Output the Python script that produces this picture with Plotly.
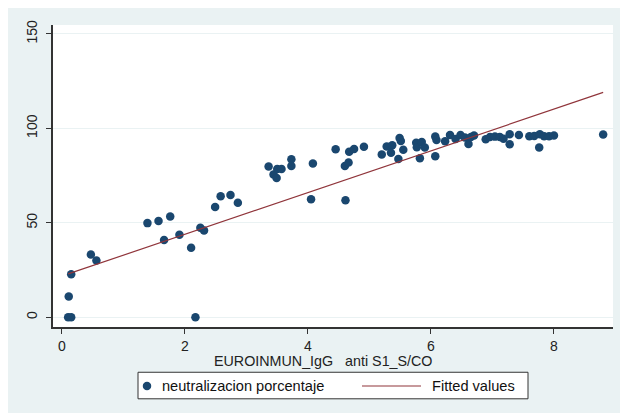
import plotly.graph_objects as go

# Data (EUROINMUN IgG anti S1 S/CO vs neutralizacion %)
igg = [0.10, 0.15, 0.11, 0.15, 0.47, 0.56, 1.39, 1.57, 1.76, 1.66, 1.91, 2.10,
       2.17, 2.25, 2.31, 2.49, 2.58, 2.74, 2.86, 3.36, 3.44, 3.49, 3.50, 3.57,
       3.73, 3.73, 4.08, 4.05, 4.45, 4.60, 4.66, 4.61, 4.67, 4.75, 4.91,
       5.20, 5.28, 5.37, 5.35, 5.49, 5.51, 5.47, 5.55,
       5.76, 5.77, 5.82, 5.85, 5.90,
       6.07, 6.09, 6.07, 6.23, 6.31, 6.40, 6.48, 6.55, 6.61, 6.70, 6.65,
       6.89, 6.96, 7.04, 7.12, 7.18, 7.28, 7.28, 7.43, 7.60, 7.68, 7.77, 7.76,
       7.84, 7.92, 8.00, 8.80]
neut = [0.0, 0.0, 11.0, 22.7, 33.2, 30.0, 49.8, 50.9, 53.3, 40.9, 43.6, 36.7,
        0.0, 47.4, 45.9, 58.3, 64.0, 64.7, 60.6, 79.8, 75.5, 73.7, 78.4, 78.4,
        83.6, 80.1, 81.4, 62.5, 88.9, 80.1, 81.9, 61.9, 87.6, 89.1, 90.2,
        86.1, 90.4, 91.0, 87.0, 94.9, 93.3, 83.8, 88.6,
        92.3, 90.0, 84.2, 92.8, 89.8,
        95.6, 93.8, 85.2, 93.2, 96.5, 94.3, 96.4, 95.2, 91.7, 96.2, 95.4,
        94.2, 95.4, 95.6, 95.4, 94.5, 96.9, 91.5, 96.4, 95.8, 95.9, 96.9, 89.8,
        95.8, 95.8, 96.2, 96.7]

fit_x = [0.10, 8.80]
fit_y = [22.9, 119.0]

x_ticks = [0, 2, 4, 6, 8]
y_ticks = [0, 50, 100, 150]

series_name = "neutralizacion porcentaje"
fit_name = "Fitted values"
x_title = "EUROINMUN_IgG   anti S1_S/CO"

BG = "#EAF2F3"
NAVY = "#1a476f"
MAROON = "#90353b"
DARK = "#333333"

fig = go.Figure()
fig.add_trace(go.Scatter(x=igg, y=neut, mode="markers", name=series_name, showlegend=False,
                         marker=dict(color=NAVY, size=8.5, line=dict(width=0))))
fig.add_trace(go.Scatter(x=fit_x, y=fit_y, mode="lines", name=fit_name, showlegend=False,
                         line=dict(color=MAROON, width=1.2)))

W, H = 628, 405
L, R, T, B = 45, 23, 12, 86
pw, ph = W - L - R, H - T - B


def fx(px):
    return (px - L) / pw


def fy(py):
    return (H - B - py) / ph


# Legend (drawn as a box with symbol samples and text labels)
leg_x0, leg_x1, leg_y0, leg_y1 = 130, 520, 365, 392
leg_cy = 379
shapes = [
    dict(type="rect", xref="paper", yref="paper", x0=fx(leg_x0), x1=fx(leg_x1),
         y0=fy(leg_y1), y1=fy(leg_y0), fillcolor="white", line=dict(color=DARK, width=1)),
    dict(type="circle", xref="paper", yref="paper", xsizemode="pixel", ysizemode="pixel",
         xanchor=fx(139), yanchor=fy(leg_cy), x0=-4.25, x1=4.25, y0=-4.25, y1=4.25,
         fillcolor=NAVY, line=dict(width=0)),
    dict(type="line", xref="paper", yref="paper", x0=fx(354), x1=fx(413),
         y0=fy(leg_cy), y1=fy(leg_cy), line=dict(color=MAROON, width=1.2)),
]
annotations = [
    dict(text=series_name, xref="paper", yref="paper", x=fx(152), y=fy(leg_cy),
         xanchor="left", yanchor="middle", showarrow=False,
         font=dict(size=14.6, color="#111")),
    dict(text=fit_name, xref="paper", yref="paper", x=fx(422), y=fy(leg_cy),
         xanchor="left", yanchor="middle", showarrow=False,
         font=dict(size=14.6, color="#111")),
    # x-axis title
    dict(text=x_title, xref="paper", yref="paper", x=fx(315), y=fy(354),
         xanchor="center", yanchor="middle", showarrow=False,
         font=dict(size=14.3, color="#222")),
]

fig.update_layout(
    width=W, height=H,
    margin=dict(l=L, r=R, t=T, b=B, pad=0),
    paper_bgcolor=BG,
    plot_bgcolor="white",
    font=dict(family="Liberation Sans, Arial, sans-serif", size=14, color="#222"),
    shapes=shapes,
    annotations=annotations,
    showlegend=False,
)

fig.update_xaxes(
    range=[-0.146, 8.96], tickvals=x_ticks, ticktext=[str(v) for v in x_ticks],
    showgrid=False, zeroline=False,
    showline=True, linecolor=DARK, linewidth=1.5,
    ticks="outside", ticklen=5, tickcolor=DARK, tickwidth=1,
    tickfont=dict(size=14, color="#222"),
)
fig.update_yaxes(
    range=[-5.2, 154.7], tickvals=y_ticks, ticktext=[str(v) for v in y_ticks],
    showgrid=True, gridcolor=BG, gridwidth=1, zeroline=False,
    showline=True, linecolor=DARK, linewidth=1.5,
    ticks="outside", ticklen=5, tickcolor=DARK, tickwidth=1,
    tickangle=-90, tickfont=dict(size=14, color="#222"), ticklabelstandoff=4,
)

fig.write_html("out.html")
